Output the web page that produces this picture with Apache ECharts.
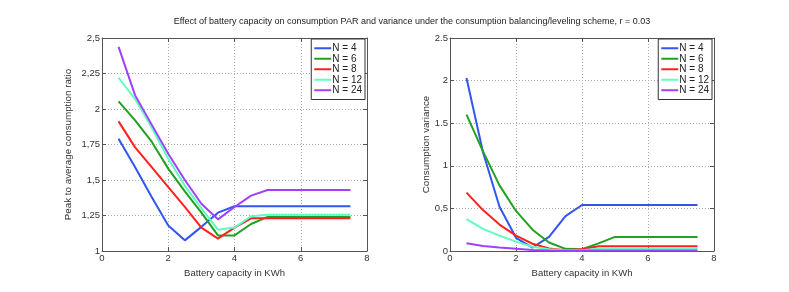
<!DOCTYPE html>
<html><head><meta charset="utf-8">
<script src="https://cdn.jsdelivr.net/npm/echarts@6/dist/echarts.min.js"></script>
<style>html,body{margin:0;padding:0;background:#fff}#c{width:789px;height:292px}</style>
</head><body><div id="c"></div>
<script>
const capacity = [0.5,1,1.5,2,2.5,3,3.5,4,4.5,5,5.5,6,6.5,7,7.5];
const seriesNames = ['N = 4','N = 6','N = 8','N = 12','N = 24'];
const colors = ['#3355f0','#22a022','#ff2020','#5effbf','#a040ff'];

const par_N4  = [1.79,1.59,1.38,1.18,1.075,1.17,1.27,1.315,1.315,1.315,1.315,1.315,1.315,1.315,1.315];
const par_N6  = [2.054,1.92,1.77,1.58,1.42,1.27,1.11,1.11,1.19,1.24,1.24,1.24,1.24,1.24,1.24];
const par_N8  = [1.913,1.73,1.59,1.45,1.31,1.165,1.087,1.165,1.23,1.23,1.23,1.23,1.23,1.23,1.23];
const par_N12 = [2.22,2.07,1.87,1.65,1.46,1.30,1.15,1.165,1.245,1.255,1.255,1.255,1.255,1.255,1.255];
const par_N24 = [2.437,2.096,1.89,1.685,1.50,1.333,1.223,1.31,1.39,1.43,1.43,1.43,1.43,1.43,1.43];

const var_N4  = [2.03,1.16,0.52,0.155,0.04,0.165,0.41,0.54,0.54,0.54,0.54,0.54,0.54,0.54,0.54];
const var_N6  = [1.60,1.17,0.77,0.47,0.25,0.10,0.025,0.02,0.09,0.165,0.165,0.165,0.165,0.165,0.165];
const var_N8  = [0.685,0.48,0.31,0.18,0.085,0.03,0.01,0.02,0.055,0.055,0.055,0.055,0.055,0.055,0.055];
const var_N12 = [0.375,0.26,0.18,0.11,0.05,0.02,0.01,0.01,0.025,0.025,0.025,0.025,0.025,0.025,0.025];
const var_N24 = [0.09,0.06,0.04,0.025,0.012,0.005,0.003,0.003,0.005,0.005,0.005,0.005,0.005,0.005,0.005];

const xTicks = [0,2,4,6,8];
const parTickLabels = {1:'1',1.25:'1,25',1.5:'1,5',1.75:'1,75',2:'2',2.25:'2,25',2.5:'2,5'};
const varTickLabels = {0:'0',0.5:'0,5',1:'1',1.5:'1.5',2:'2',2.5:'2.5'};

const parData = [par_N4,par_N6,par_N8,par_N12,par_N24];
const varData = [var_N4,var_N6,var_N8,var_N12,var_N24];

const font = '"Liberation Sans", Arial, sans-serif';
const tc = '#333';
function xAx(gi, pos, show){
  return {type:'value', gridIndex:gi, position:pos, min:0, max:8, interval:2,
    name: show ? 'Battery capacity in KWh' : '', nameLocation:'middle', nameGap:12,
    nameTextStyle:{fontSize:9.5, color:tc, fontFamily:font},
    axisLine:{show:true, onZero:false, lineStyle:{color:'#555', width:1}},
    axisTick:{show:true, inside:true, length:4, lineStyle:{color:'#555'}},
    axisLabel:{show:show, fontSize:9.5, color:tc, fontFamily:font, margin:2},
    splitLine:{show:show, lineStyle:{type:[1,2], color:'#aaa'}}};
}
function yAx(gi, pos, show, min, max, interval, labels, name, gap){
  return {type:'value', gridIndex:gi, position:pos, min:min, max:max, interval:interval,
    name: show ? name : '', nameLocation:'middle', nameGap:gap, nameRotate:90,
    nameTextStyle:{fontSize:9.8, color:tc, fontFamily:font},
    axisLine:{show:true, onZero:false, lineStyle:{color:'#555', width:1}},
    axisTick:{show:true, inside:true, length:4, lineStyle:{color:'#555'}},
    axisLabel:{show:show, fontSize:9.5, color:tc, fontFamily:font, margin:2,
      formatter:v => labels[Math.round(v*100)/100] ?? String(v)},
    splitLine:{show:show, lineStyle:{type:[1,2], color:'#aaa'}}};
}

const series = [];
seriesNames.forEach((n,i)=>{
  series.push({name:n, type:'line', xAxisIndex:0, yAxisIndex:0, showSymbol:false, symbol:'none',
    lineStyle:{width:2, color:colors[i]}, itemStyle:{color:colors[i]},
    data: capacity.map((x,k)=>[x, parData[i][k]]), animation:false});
});
seriesNames.forEach((n,i)=>{
  series.push({name:n, type:'line', xAxisIndex:2, yAxisIndex:2, showSymbol:false, symbol:'none',
    lineStyle:{width:2, color:colors[i]}, itemStyle:{color:colors[i]},
    data: capacity.map((x,k)=>[x, varData[i][k]]), animation:false});
});

function legend(right){
  return {orient:'vertical', right:right, top:39, data:seriesNames, icon:'rect', itemWidth:17, itemHeight:2,
    itemGap:0, padding:[4,3,4,3], borderColor:'#333', borderWidth:1, backgroundColor:'#fff',
    textStyle:{fontSize:10, color:'#222', fontFamily:font, lineHeight:10.5, padding:[0,0,0,-4]}, selectedMode:false};
}

const chart = echarts.init(document.getElementById('c'), null, {renderer:'canvas'});
chart.setOption({
  backgroundColor:'#fff',
  animation:false,
  title:{text:'Effect of battery capacity on consumption PAR and variance under the consumption balancing/leveling scheme, r = 0.03',
    left:407, textAlign:'center', top:12, textStyle:{fontSize:9, fontWeight:'normal', color:'#222', fontFamily:font}},
  grid:[{left:102, right:422, top:38, bottom:41},{left:450, right:75, top:38, bottom:41}],
  xAxis:[xAx(0,'bottom',true), xAx(0,'top',false), xAx(1,'bottom',true), xAx(1,'top',false)],
  yAxis:[yAx(0,'left',true,1,2.5,0.25,parTickLabels,'Peak to average consumption ratio',29),
         yAx(0,'right',false,1,2.5,0.25,parTickLabels,'',0),
         yAx(1,'left',true,0,2.5,0.5,varTickLabels,'Consumption variance',17),
         yAx(1,'right',false,0,2.5,0.5,varTickLabels,'',0)],
  legend:[legend(424), legend(77)],
  series: series
});
</script></body></html>
